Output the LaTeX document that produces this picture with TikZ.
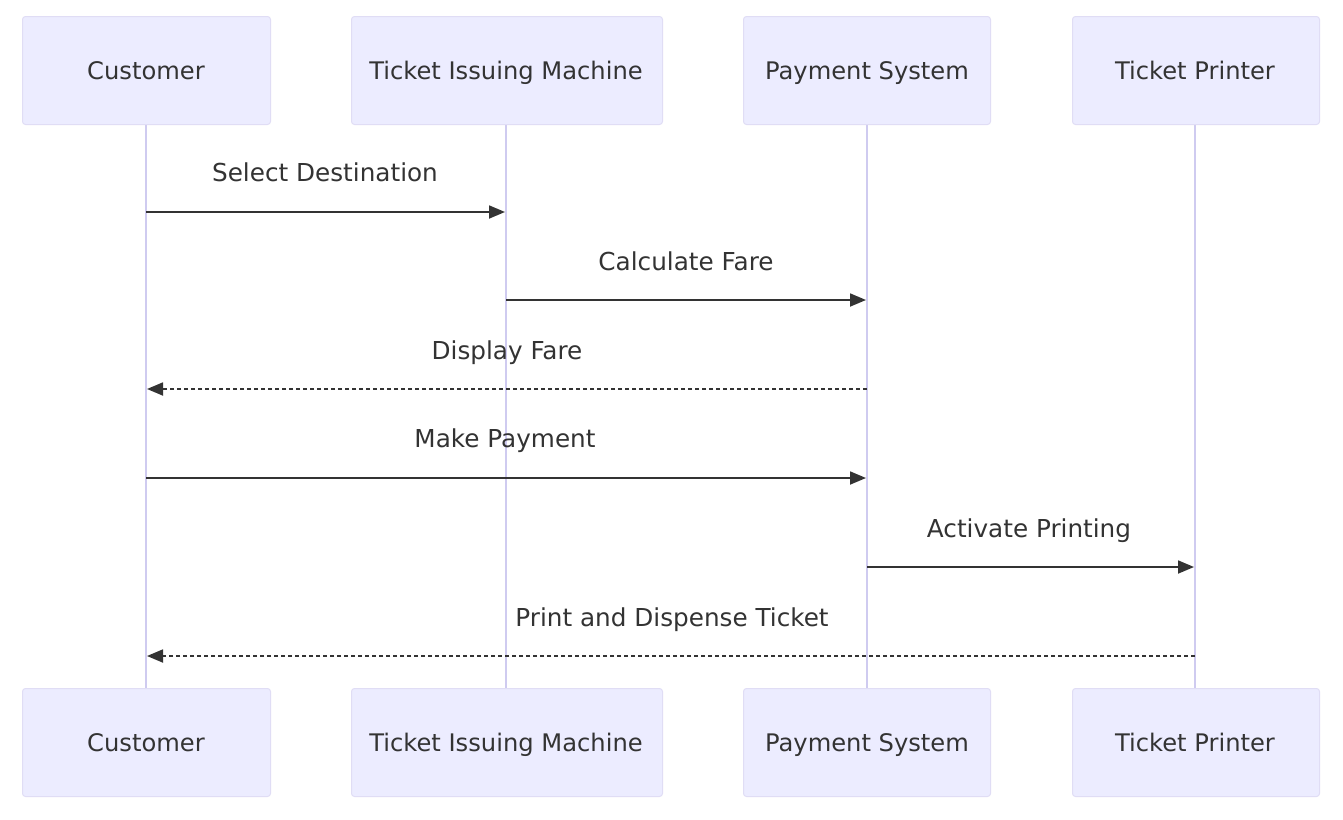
\documentclass[tikz,border=0pt]{standalone}
\usepackage{fontspec}
\setmainfont{DejaVu Sans}
\usetikzlibrary{arrows.meta}
\definecolor{actfill}{HTML}{ECECFF}
\definecolor{actborder}{HTML}{E0DDF5}
\definecolor{lifecol}{HTML}{CFCBF0}
\definecolor{txt}{HTML}{333333}
\tikzset{
  actor/.style={draw=actborder, line width=1pt, fill=actfill, rounded corners=3pt, anchor=north west, inner sep=0pt},
  actortext/.style={text=txt, font=\fontsize{24.2}{28}\selectfont, anchor=base},
  life/.style={draw=lifecol, line width=1.6pt},
  msg/.style={draw=txt, line width=1.8pt, -{Triangle[length=16pt,width=13pt]}},
  msgd/.style={msg, dash pattern=on 4pt off 3pt},
  msglabel/.style={text=txt, font=\fontsize{24.7}{28}\selectfont, anchor=base}
}
\begin{document}
\begin{tikzpicture}[x=1pt,y=-1pt]
\useasboundingbox[fill=white] (0,0) rectangle (1343,819);
% lifelines
\foreach \n/\x in {c/146,t/506,p/867,r/1195}{
  \coordinate (\n top) at (\x,124);
  \coordinate (\n bot) at (\x,688);
}
\draw[life] (ctop) -- (cbot);
\draw[life] (ttop) -- (tbot);
\draw[life] (ptop) -- (pbot);
\draw[life] (rtop) -- (rbot);
% actor boxes top
\node[actor, minimum width=248pt, minimum height=108pt] (cA) at (22,16) {};
\node[actor, minimum width=311pt, minimum height=108pt] (tA) at (351,16) {};
\node[actor, minimum width=247pt, minimum height=108pt] (pA) at (743,16) {};
\node[actor, minimum width=247pt, minimum height=108pt] (rA) at (1072,16) {};
\node[actortext] (cAt) at (146,79) {Customer};
\node[actortext] (tAt) at (506,79) {Ticket Issuing Machine};
\node[actortext] (pAt) at (867,79) {Payment System};
\node[actortext] (rAt) at (1195,79) {Ticket Printer};
% actor boxes bottom
\node[actor, minimum width=248pt, minimum height=108pt] (cB) at (22,688) {};
\node[actor, minimum width=311pt, minimum height=108pt] (tB) at (351,688) {};
\node[actor, minimum width=247pt, minimum height=108pt] (pB) at (743,688) {};
\node[actor, minimum width=247pt, minimum height=108pt] (rB) at (1072,688) {};
\node[actortext] (cBt) at (146,751) {Customer};
\node[actortext] (tBt) at (506,751) {Ticket Issuing Machine};
\node[actortext] (pBt) at (867,751) {Payment System};
\node[actortext] (rBt) at (1195,751) {Ticket Printer};
% message coordinates
\coordinate (m1s) at (146,212); \coordinate (m1e) at (505,212);
\coordinate (m2s) at (506,300); \coordinate (m2e) at (866,300);
\coordinate (m3s) at (867,389); \coordinate (m3e) at (147,389);
\coordinate (m4s) at (146,478); \coordinate (m4e) at (866,478);
\coordinate (m5s) at (867,567); \coordinate (m5e) at (1194,567);
\coordinate (m6s) at (1195,656); \coordinate (m6e) at (147,656);
\draw[msg] (m1s) -- (m1e);
\draw[msg] (m2s) -- (m2e);
\draw[msgd] (m3s) -- (m3e);
\draw[msg] (m4s) -- (m4e);
\draw[msg] (m5s) -- (m5e);
\draw[msgd] (m6s) -- (m6e);
\node[msglabel] (l1) at (325,181) {Select Destination};
\node[msglabel] (l2) at (686,270) {Calculate Fare};
\node[msglabel] (l3) at (507,359) {Display Fare};
\node[msglabel] (l4) at (505,447) {Make Payment};
\node[msglabel] (l5) at (1029,537) {Activate Printing};
\node[msglabel] (l6) at (672,626) {Print and Dispense Ticket};
\end{tikzpicture}
\end{document}
